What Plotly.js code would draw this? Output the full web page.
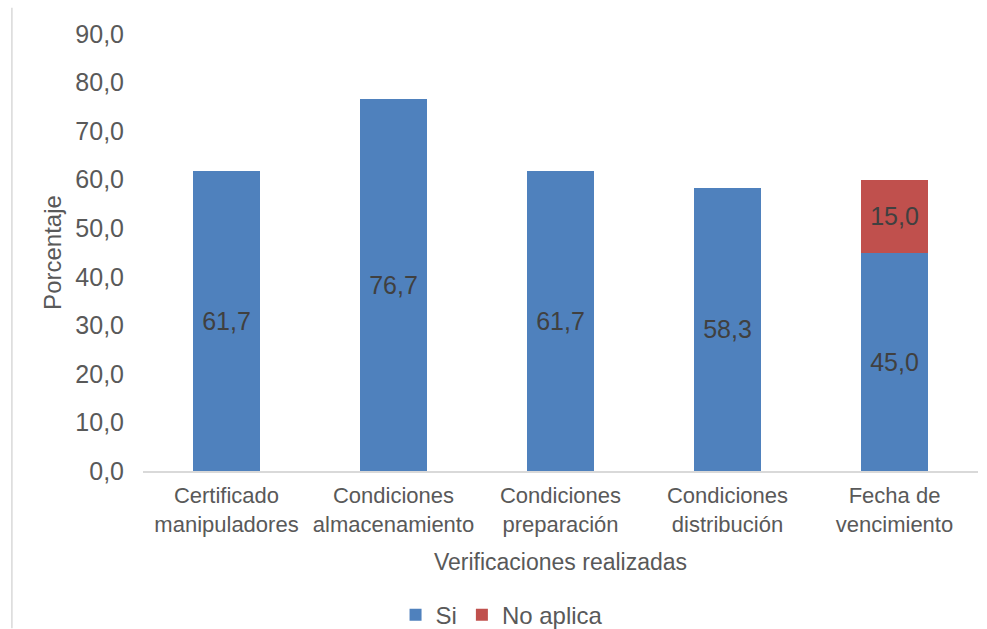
<!DOCTYPE html>
<html><head><meta charset="utf-8">
<script src="https://cdn.plot.ly/plotly-3.0.1.min.js"></script>
<style>html,body{margin:0;padding:0;background:#fff}#chart{width:987px;height:629px}</style>
</head><body><div id="chart"></div>
<script>
const categories = ["Certificado<br>manipuladores","Condiciones<br>almacenamiento","Condiciones<br>preparación","Condiciones<br>distribución","Fecha de<br>vencimiento"];
const siValues = [61.7, 76.7, 61.7, 58.3, 45.0];
const noAplicaValues = [null, null, null, null, 15.0];
const yTicks = [0,10,20,30,40,50,60,70,80,90];

const font = "Liberation Sans, Arial, sans-serif";
const traces = [
  {type:'bar', name:'Si', x:categories, y:siValues, marker:{color:'#4F81BD'},
   texttemplate:'%{y:.1f}', textposition:'inside', insidetextanchor:'middle',
   textfont:{family:font,size:25,color:'#404040'}, width:0.4, hoverinfo:'none'},
  {type:'bar', name:'No aplica', x:categories, y:noAplicaValues, marker:{color:'#C0504D'},
   texttemplate:'%{y:.1f}', textposition:'inside', insidetextanchor:'middle',
   textfont:{family:font,size:25,color:'#404040'}, width:0.4, hoverinfo:'none'}
];
const layout = {
  width:987, height:629, barmode:'stack', separators:',.',
  margin:{l:143, r:9, t:34, b:158, autoexpand:false},
  paper_bgcolor:'#fff', plot_bgcolor:'#fff',
  font:{family:font, color:'#595959'},
  xaxis:{tickfont:{size:22,color:'#595959'}, showline:true, linecolor:'#d9d9d9', linewidth:1.5,
         ticks:'', automargin:false, ticklabelstandoff:4,
         title:{text:'Verificaciones realizadas', font:{size:23,color:'#595959'}, standoff:18}},
  yaxis:{range:[0,90], tickvals:yTicks, tickformat:'.1f', showgrid:false, zeroline:false, showline:false,
         tickfont:{size:25,color:'#595959'}, ticklen:0, ticks:'', ticklabelstandoff:18, automargin:false,
         title:{text:'Porcentaje', font:{size:24,color:'#595959'}, standoff:6}},
  legend:{orientation:'h', x:0.43, xanchor:'center', yref:'container', y:0.022, yanchor:'middle',
          font:{size:24,color:'#595959'}, traceorder:'normal', itemwidth:30},
  showlegend:true,
  shapes:[{type:'line', xref:'paper', yref:'paper', x0:-0.157, x1:-0.157, y0:1.06, y1:-0.36,
           line:{color:'#d9d9d9', width:1.5}}]
};
Plotly.newPlot('chart', traces, layout, {staticPlot:true});
</script></body></html>
